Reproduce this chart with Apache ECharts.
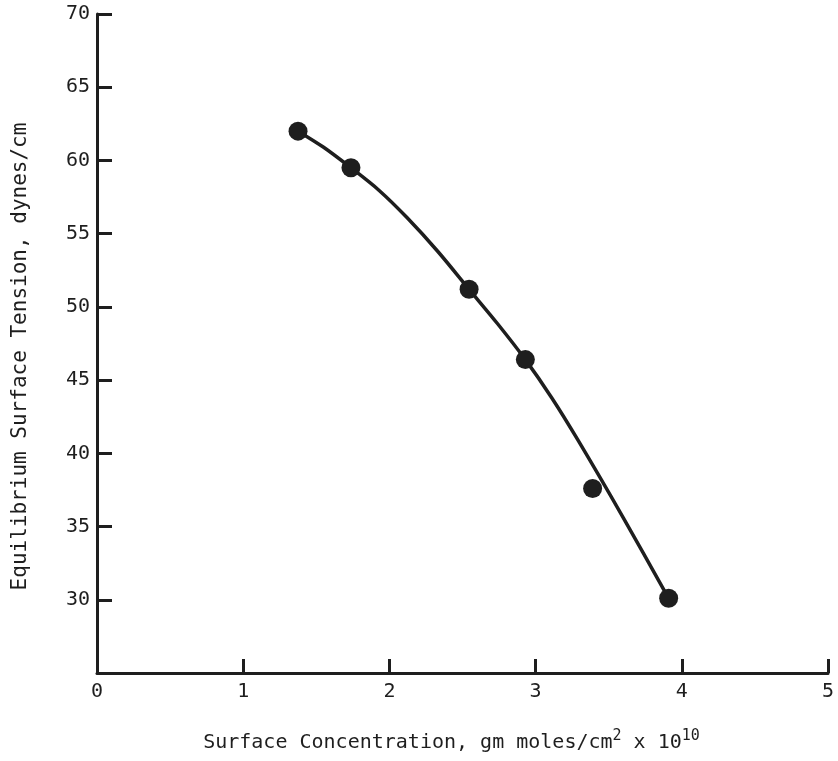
<!DOCTYPE html>
<html>
<head>
<meta charset="utf-8">
<script src="https://cdn.jsdelivr.net/npm/echarts@6/dist/echarts.min.js"></script>
<style>
  html, body { margin: 0; padding: 0; background: #fff; }
  #chart { width: 838px; height: 761px; }
</style>
</head>
<body>
<div id="chart"></div>
<script>
// Measured points: surface concentration (gm moles/cm^2 x 10^10) vs. surface tension (dynes/cm)
const concentration = [1.375, 1.737, 2.545, 2.93, 3.39, 3.91];
const tension = [62.0, 59.5, 51.2, 46.4, 37.6, 30.1];

// Hand-drawn smooth fit through the measurements
const fitConcentration = [1.375, 1.55, 1.737, 1.93, 2.12, 2.33, 2.545, 2.74, 2.93, 3.11, 3.29, 3.6, 3.91];
const fitTension = [62.0, 60.9, 59.5, 57.95, 56.1, 53.8, 51.2, 48.85, 46.4, 43.8, 40.9, 35.6, 30.1];

const xTicks = [0, 1, 2, 3, 4, 5];
const yTicks = [30, 35, 40, 45, 50, 55, 60, 65, 70];

const ink = '#1e1e1e';
const font = 'DejaVu Sans Mono';

const chart = echarts.init(document.getElementById('chart'));
chart.setOption({
  backgroundColor: '#fff',
  animation: false,
  grid: { left: 97, right: 10, top: 14, bottom: 88, outerBoundsMode: 'none', containLabel: false },
  xAxis: {
    type: 'value',
    min: xTicks[0],
    max: xTicks[xTicks.length - 1],
    interval: 1,
    axisLine: { lineStyle: { color: ink, width: 3 } },
    axisTick: { inside: true, length: 14, lineStyle: { color: ink, width: 3 } },
    axisLabel: { color: ink, fontFamily: font, fontSize: 20, margin: 9 },
    splitLine: { show: false },
    nameLocation: 'middle',
    nameGap: 56,
    name: '{a|Surface Concentration, gm moles/cm}{s|2}{a| x 10}{s|10}',
    nameTextStyle: {
      padding: [0, 22, 0, 0],
      rich: {
        a: { fontFamily: font, fontSize: 20, color: ink, lineHeight: 24, verticalAlign: 'bottom' },
        s: { fontFamily: font, fontSize: 15, color: ink, lineHeight: 24, verticalAlign: 'top' }
      }
    }
  },
  yAxis: {
    type: 'value',
    min: 25,
    max: 70,
    interval: 5,
    axisLine: { lineStyle: { color: ink, width: 3 } },
    axisTick: { inside: true, length: 15, lineStyle: { color: ink, width: 3 } },
    axisLabel: {
      color: ink, fontFamily: font, fontSize: 20, margin: 7,
      formatter: v => (yTicks.indexOf(v) >= 0 ? String(v) : '')
    },
    splitLine: { show: false },
    name: 'Equilibrium Surface Tension, dynes/cm',
    nameLocation: 'middle',
    nameGap: 66,
    nameTextStyle: { color: ink, fontFamily: font, fontSize: 21, padding: [0, 26, 0, 0] }
  },
  series: [
    {
      type: 'line',
      data: fitConcentration.map((x, i) => [x, fitTension[i]]),
      smooth: 0.3,
      showSymbol: false,
      lineStyle: { color: ink, width: 3.5 },
      z: 2
    },
    {
      type: 'scatter',
      data: concentration.map((x, i) => [x, tension[i]]),
      symbol: 'circle',
      symbolSize: 19,
      itemStyle: { color: ink, opacity: 1 },
      z: 3
    }
  ]
});
</script>
</body>
</html>
